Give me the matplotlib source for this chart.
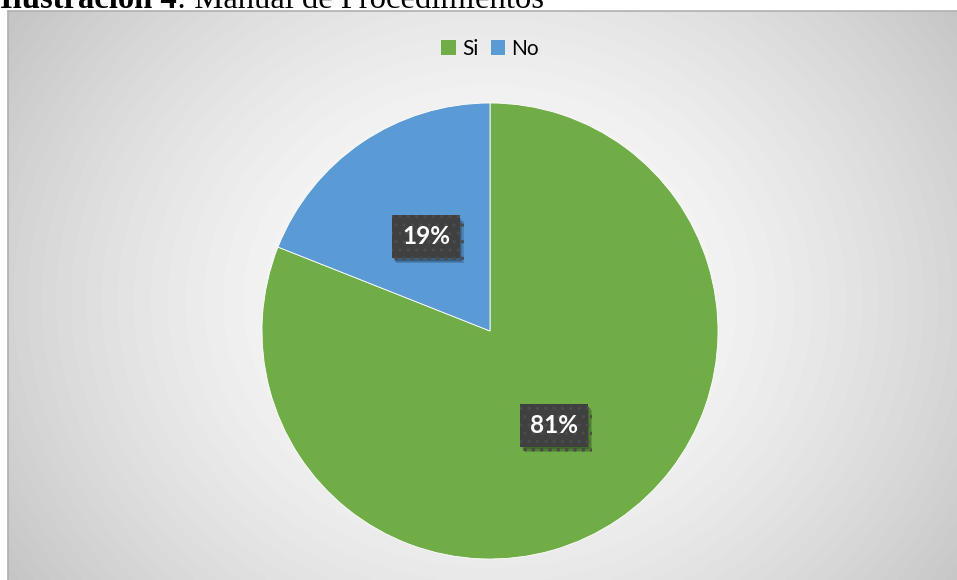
import numpy as np
import matplotlib.pyplot as plt
from matplotlib.patches import Patch
from matplotlib import patheffects as pe

# Data
categories = ['Si', 'No']
values = [81, 19]
colors = ['#70AD47', '#5B9BD5']

W, H = 957, 580
fig = plt.figure(figsize=(W / 100, H / 100), dpi=100)
fig.patch.set_facecolor('white')

# Chart area background: radial gradient (white centre, grey edges)
bg = fig.add_axes([8 / W, 0, 1 - 8 / W, 1 - 11 / H])
bg.set_axis_off()
yy, xx = np.mgrid[0:569, 0:949]
dx = (xx - 482) / 480.0
dy = (yy - 290) / 420.0
shade = 1 - 0.17 * (dx ** 2 + dy ** 2) ** 0.8
bg.imshow(shade, cmap='gray', vmin=0, vmax=1, aspect='auto',
          extent=[0, 1, 0, 1], origin='upper')
bg.set_xlim(0, 1)
bg.set_ylim(0, 1)
bg.plot([0, 1], [1, 1], color='#b0b0b0', lw=1.2, transform=bg.transAxes, clip_on=False)
bg.plot([0, 0], [0, 1], color='#b0b0b0', lw=1.2, transform=bg.transAxes, clip_on=False)

# Caption above the chart (cut off at the top like the source)
t1 = fig.text(0, 1 - 8 / H, 'Ilustración 4', fontsize=23.5, fontweight='bold',
              family='Liberation Serif', va='baseline', ha='left')
fig.canvas.draw()
x_end = t1.get_window_extent().x1 / W
fig.text(x_end, 1 - 8 / H, ': Manual de Procedimientos', fontsize=23.5,
         family='Liberation Serif', va='baseline', ha='left')

# Pie
cx, cy, r = 490, 331, 228
ax = fig.add_axes([(cx - r) / W, (H - cy - r) / H, 2 * r / W, 2 * r / H])
wedges, texts, autotexts = ax.pie(values, colors=colors, startangle=90,
                                  counterclock=False, autopct='%1.0f%%',
                                  pctdistance=0.5,
                                  wedgeprops=dict(edgecolor='white', linewidth=0.6))
ax.set_xlim(-1, 1)
ax.set_ylim(-1, 1)
ax.set_aspect('equal')

plt.rcParams['hatch.linewidth'] = 1.2
for t in autotexts:
    t.set_color('white')
    t.set_fontsize(17.5)
    t.set_fontweight('bold')
    t.set_family(['Lato', 'DejaVu Sans'])
    t.set_bbox(dict(boxstyle='square,pad=0.4', facecolor='#404040',
                    edgecolor='#4c4c4c', linewidth=0, hatch='..'))
    t.get_bbox_patch().set_path_effects([
        pe.SimplePatchShadow(offset=(3, -4), shadow_rgbFace='black', alpha=0.15),
        pe.SimplePatchShadow(offset=(2, -3), shadow_rgbFace='black', alpha=0.15),
        pe.SimplePatchShadow(offset=(1, -2), shadow_rgbFace='black', alpha=0.15),
        pe.Normal()])

# Legend
handles = [Patch(facecolor=c, edgecolor='none') for c in colors]
fig.legend(handles, categories, loc='center', bbox_to_anchor=(cx / W, 1 - 49 / H),
           ncol=2, frameon=False, handlelength=0.7, handleheight=0.7,
           columnspacing=0.6, handletextpad=0.3,
           prop={'family': 'Lato', 'size': 15})

fig.savefig('out.png', dpi=100)
